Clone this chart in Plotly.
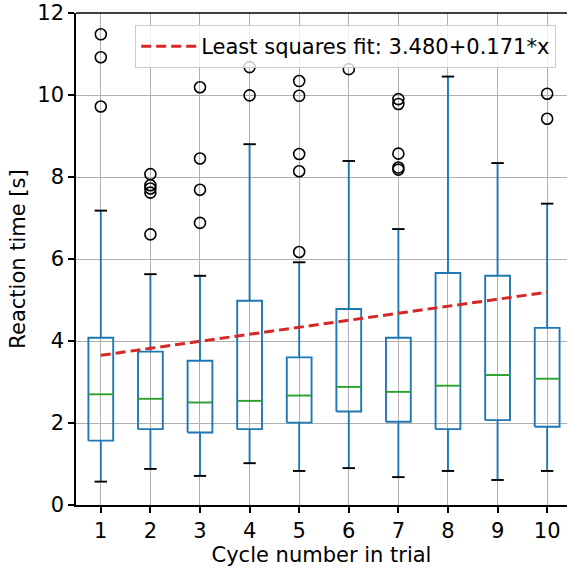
import plotly.graph_objects as go

cycles = [1, 2, 3, 4, 5, 6, 7, 8, 9, 10]
q1 = [1.57, 1.85, 1.77, 1.85, 2.01, 2.28, 2.03, 1.85, 2.07, 1.91]
median = [2.70, 2.59, 2.50, 2.54, 2.67, 2.88, 2.76, 2.91, 3.17, 3.08]
q3 = [4.08, 3.74, 3.52, 4.98, 3.60, 4.78, 4.08, 5.66, 5.59, 4.32]
whisker_low = [0.57, 0.88, 0.71, 1.02, 0.83, 0.90, 0.68, 0.83, 0.61, 0.83]
whisker_high = [7.18, 5.63, 5.59, 8.80, 5.92, 8.39, 6.73, 10.45, 8.34, 7.35]
outliers = [
    [11.48, 10.92, 9.72],
    [8.07, 7.80, 7.72, 7.62, 6.60],
    [10.19, 8.45, 7.69, 6.88],
    [10.68, 9.99],
    [10.34, 9.98, 8.56, 8.14, 6.17],
    [10.63],
    [9.90, 9.78, 8.57, 8.23, 8.18],
    [],
    [],
    [10.03, 9.42],
]
fit_intercept = 3.480
fit_slope = 0.171
y_ticks = [0, 2, 4, 6, 8, 10, 12]

BOX_HALF = 0.25
CAP_HALF = 0.125
BLUE = "#1f77b4"
GREEN = "#2ca02c"
FONT = "DejaVu Sans"
FS = 21

box_x, box_y = [], []
med_x, med_y = [], []
wh_x, wh_y = [], []
cap_x, cap_y = [], []
out_x, out_y = [], []
for i, c in enumerate(cycles):
    box_x += [c - BOX_HALF, c + BOX_HALF, c + BOX_HALF, c - BOX_HALF, c - BOX_HALF, None]
    box_y += [q1[i], q1[i], q3[i], q3[i], q1[i], None]
    med_x += [c - BOX_HALF, c + BOX_HALF, None]
    med_y += [median[i], median[i], None]
    wh_x += [c, c, None, c, c, None]
    wh_y += [q1[i], whisker_low[i], None, q3[i], whisker_high[i], None]
    cap_x += [c - CAP_HALF, c + CAP_HALF, None, c - CAP_HALF, c + CAP_HALF, None]
    cap_y += [whisker_low[i], whisker_low[i], None, whisker_high[i], whisker_high[i], None]
    for o in outliers[i]:
        out_x.append(c)
        out_y.append(o)

fig = go.Figure()
fig.add_trace(go.Scatter(x=wh_x, y=wh_y, mode="lines", line=dict(color=BLUE, width=1.9),
                         showlegend=False, hoverinfo="skip"))
fig.add_trace(go.Scatter(x=cap_x, y=cap_y, mode="lines", line=dict(color="black", width=1.9),
                         showlegend=False, hoverinfo="skip"))
fig.add_trace(go.Scatter(x=box_x, y=box_y, mode="lines", line=dict(color=BLUE, width=1.9),
                         showlegend=False, hoverinfo="skip"))
fig.add_trace(go.Scatter(x=med_x, y=med_y, mode="lines", line=dict(color=GREEN, width=1.9),
                         showlegend=False, hoverinfo="skip"))
fig.add_trace(go.Scatter(x=out_x, y=out_y, mode="markers",
                         marker=dict(symbol="circle-open", size=11, color="black",
                                     line=dict(width=1.6, color="black")),
                         showlegend=False))
fit_y = [fit_intercept + fit_slope * c for c in cycles]
fig.add_trace(go.Scatter(x=cycles, y=fit_y, mode="lines",
                         line=dict(color="#d62728", width=3, dash="10px,5px"),
                         name="Least squares fit: %.3f+%.3f*x" % (fit_intercept, fit_slope)))

fig.update_layout(
    width=567, height=569,
    margin=dict(l=76, r=0, t=13, b=64, autoexpand=False),
    plot_bgcolor="white", paper_bgcolor="white",
    font=dict(family=FONT, size=FS, color="black"),
    legend=dict(x=0.12, y=0.976, xanchor="left", yanchor="top",
                bgcolor="rgba(255,255,255,0.8)", bordercolor="#cccccc", borderwidth=1.3,
                font=dict(family=FONT, size=FS), itemwidth=55),
    xaxis=dict(range=[0.5, 10.40], tickmode="array", tickvals=cycles,
               ticktext=[str(c) for c in cycles],
               showgrid=True, gridcolor="#b0b0b0", gridwidth=1.4,
               showline=True, linecolor="black", linewidth=1.5,
               ticks="outside", ticklen=6, tickwidth=1.5, tickcolor="black",
               zeroline=False, automargin=False,
               title=dict(text="Cycle number in trial", font=dict(size=FS), standoff=4)),
    yaxis=dict(range=[0, 12], tickmode="array", tickvals=y_ticks,
               ticktext=[str(t) for t in y_ticks],
               showgrid=True, gridcolor="#b0b0b0", gridwidth=1.4,
               showline=True, linecolor="black", linewidth=1.5,
               ticks="outside", ticklen=6, tickwidth=1.5, tickcolor="black",
               zeroline=False, automargin=False,
               title=dict(text="Reaction time [s]", font=dict(size=FS), standoff=6)),
    shapes=[dict(type="line", xref="paper", yref="paper", x0=0, x1=1, y0=1, y1=1,
                 line=dict(color="black", width=1.5))],
)

fig.write_html("out.html", config={"displayModeBar": False},
               post_script="document.body.style.margin='0';document.body.style.overflow='hidden';")
